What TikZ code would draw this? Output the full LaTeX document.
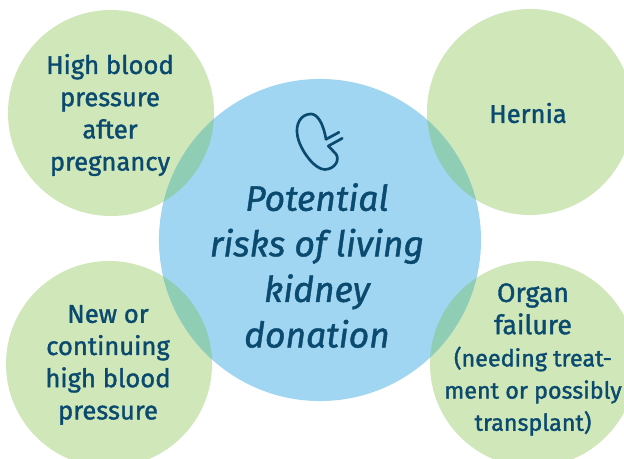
\documentclass[tikz,border=0pt]{standalone}
\usepackage{fontspec}
\setmainfont{Fira Sans}
\definecolor{riskgreen}{HTML}{CFE7B9}
\definecolor{riskblue}{HTML}{A0D6F1}
\definecolor{riskoverlap}{HTML}{8FCDB4}
\definecolor{riskink}{HTML}{0B4A6F}

\begin{document}
\begin{tikzpicture}[
    x=0.025cm, y=-0.025cm,
    riskcircle/.style={circle, fill=riskgreen, minimum size=5.15cm, inner sep=0pt},
    centrecircle/.style={circle, fill=riskblue, minimum size=8.05cm, inner sep=0pt},
    risktxt/.style={align=center, text=riskink, font=\fontsize{18.2}{22.9}\selectfont\addfontfeature{FakeBold=1.4}},
    centretxt/.style={align=center, text=riskink, font=\fontsize{25.2}{32.4}\selectfont\itshape\addfontfeature{FakeBold=1.2}},
    kidneyline/.style={draw=riskink, line width=1.9pt, line cap=round, line join=round}
]
\useasboundingbox (0,0) rectangle (624,459);
\clip (0,0) rectangle (624,459);

% 1. Outer circles
\node[riskcircle] (pregnancy) at (111,113) {};
\node[riskcircle] (hernia) at (530,112) {};
\node[riskcircle] (pressure) at (109,364) {};
\node[riskcircle] (failure) at (533,364) {};

% 2. Centre circle
\node[centrecircle] (centre) at (320,240) {};

% 3. Overlaps
\foreach \cx/\cy in {111/113, 530/112, 109/364, 533/364} {
    \begin{scope}
        \clip (320,240) circle[radius=4.025cm];
        \fill[riskoverlap] (\cx,\cy) circle[radius=2.575cm];
    \end{scope}
}

% 4. Kidney icon
\draw[kidneyline] (326,139.3) .. controls (323,122) and (317,114) .. (311,114)
    .. controls (301,114) and (295,124) .. (297.5,136)
    .. controls (300,150) and (315,170) .. (325,169.5)
    .. controls (335,169) and (340,160) .. (336,154)
    -- (328.3,146);
\draw[kidneyline] (326,139.3) -- (339,132.3);
\draw[kidneyline] (328.3,146) -- (342.3,138.3);

% 5. Labels
\node[centretxt] (centrelabel) at (317,265.5) {Potential\\risks of living\\kidney\\donation};
\node[risktxt] (pregnancylabel) at (110,115) {High blood\\pressure\\after\\pregnancy};
\node[risktxt] (hernialabel) at (528,113) {Hernia};
\node[risktxt] (pressurelabel) at (108,365) {New or\\continuing\\high blood\\pressure};
\node[risktxt, font=\fontsize{19}{22.9}\selectfont\addfontfeature{FakeBold=1.4}] (failurelabel) at (533,359.5) {Organ\\failure\\{\fontsize{16.6}{22.9}\selectfont (needing treat-}\\{\fontsize{16.6}{22.9}\selectfont ment or possibly}\\{\fontsize{16.6}{22.9}\selectfont transplant)}};

\end{tikzpicture}
\end{document}
